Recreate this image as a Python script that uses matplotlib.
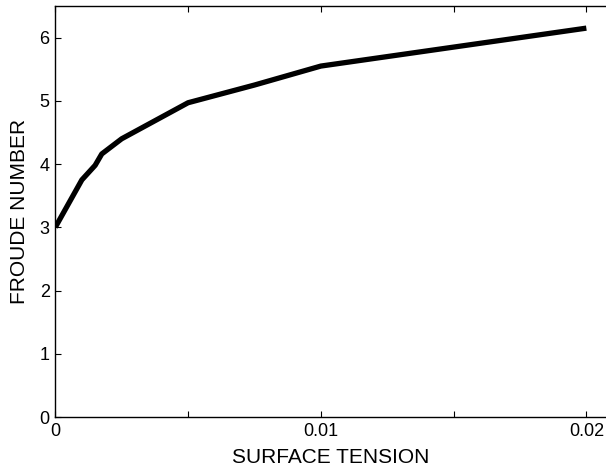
import numpy as np
import matplotlib.pyplot as plt

plt.rcParams['font.family'] = ['Liberation Sans', 'DejaVu Sans']

# surface tension vs froude number
surface_tension = [0, 0.001, 0.0015, 0.00175, 0.0025, 0.005, 0.0075, 0.01, 0.02]
froude_number = [3.0, 3.75, 3.98, 4.16, 4.40, 4.97, 5.25, 5.55, 6.15]

xticks = [0, 0.005, 0.01, 0.015, 0.02]
xtick_labels = ['0', '', '0.01', '', '0.02']
yticks = [0, 1, 2, 3, 4, 5, 6]

fig = plt.figure(figsize=(6.06, 4.73), dpi=100)
W, H = 606, 473
ax = fig.add_axes([55.3 / W, (H - 417) / H, (606 - 55.3) / W, (417 - 6) / H])

ax.plot(surface_tension, froude_number, color='k', linewidth=3.8, solid_capstyle='butt')

# axes box runs off the right edge of the picture, so no right spine
ax.set_xlim(0, 0.02074)
ax.set_ylim(0, 6.5)
ax.set_xticks(xticks)
ax.set_xticklabels(xtick_labels)
ax.set_yticks(yticks)
ax.tick_params(direction='in', top=True, right=False, length=4, width=0.8,
               labelsize=13, pad=4)
ax.spines['right'].set_visible(False)
for s in ax.spines.values():
    s.set_linewidth(1.0)

ax.set_xlabel('SURFACE TENSION', fontsize=15, labelpad=6)
ax.set_ylabel('FROUDE NUMBER', fontsize=15, labelpad=8)

fig.savefig('out.png', dpi=100)
